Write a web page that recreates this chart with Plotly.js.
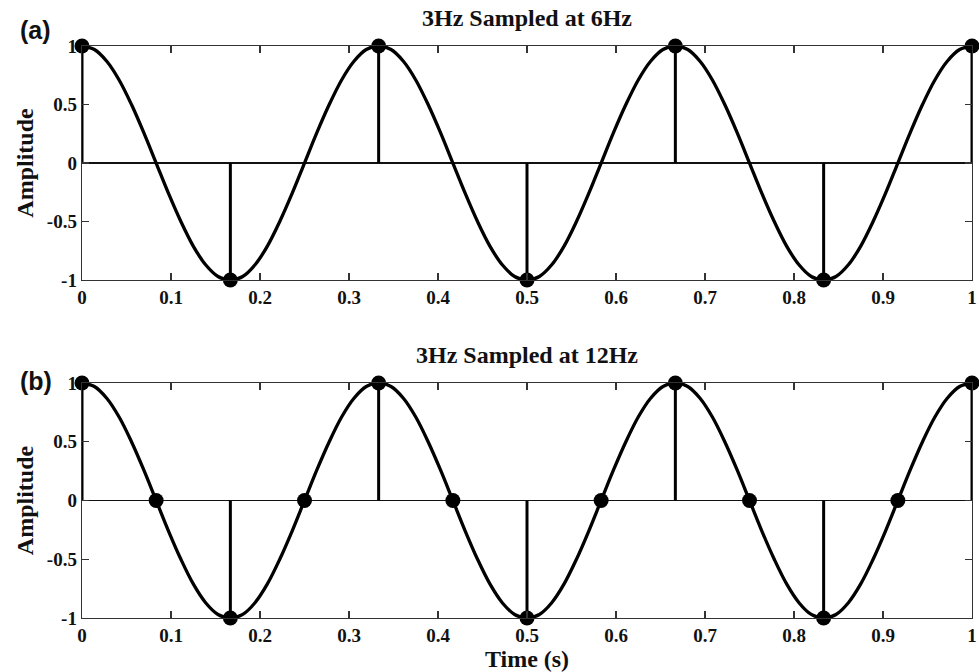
<!DOCTYPE html>
<html><head><meta charset="utf-8">
<script src="https://cdn.plot.ly/plotly-3.0.1.min.js"></script>
<style>body{margin:0;background:#fff}#c{width:979px;height:672px}</style>
</head><body><div id="c"></div>
<script>
// Continuous 3 Hz signal, read at 1/72 s steps
const curveT = [0,0.0139,0.0278,0.0417,0.0556,0.0694,0.0833,0.0972,0.1111,0.125,0.1389,0.1528,
  0.1667,0.1806,0.1944,0.2083,0.2222,0.2361,0.25,0.2639,0.2778,0.2917,0.3056,0.3194,
  0.3333,0.3472,0.3611,0.375,0.3889,0.4028,0.4167,0.4306,0.4444,0.4583,0.4722,0.4861,
  0.5,0.5139,0.5278,0.5417,0.5556,0.5694,0.5833,0.5972,0.6111,0.625,0.6389,0.6528,
  0.6667,0.6806,0.6944,0.7083,0.7222,0.7361,0.75,0.7639,0.7778,0.7917,0.8056,0.8194,
  0.8333,0.8472,0.8611,0.875,0.8889,0.9028,0.9167,0.9306,0.9444,0.9583,0.9722,0.9861,1];
const curveA = [1,0.97,0.87,0.71,0.5,0.26,0,-0.26,-0.5,-0.71,-0.87,-0.97,
  -1,-0.97,-0.87,-0.71,-0.5,-0.26,0,0.26,0.5,0.71,0.87,0.97,
  1,0.97,0.87,0.71,0.5,0.26,0,-0.26,-0.5,-0.71,-0.87,-0.97,
  -1,-0.97,-0.87,-0.71,-0.5,-0.26,0,0.26,0.5,0.71,0.87,0.97,
  1,0.97,0.87,0.71,0.5,0.26,0,-0.26,-0.5,-0.71,-0.87,-0.97,
  -1,-0.97,-0.87,-0.71,-0.5,-0.26,0,0.26,0.5,0.71,0.87,0.97,1];
// Samples at 6 Hz
const s6T = [0,0.1667,0.3333,0.5,0.6667,0.8333,1];
const s6A = [1,-1,1,-1,1,-1,1];
// Samples at 12 Hz
const s12T = [0,0.0833,0.1667,0.25,0.3333,0.4167,0.5,0.5833,0.6667,0.75,0.8333,0.9167,1];
const s12A = [1,0,-1,0,1,0,-1,0,1,0,-1,0,1];
const titles = ["3Hz Sampled at 6Hz","3Hz Sampled at 12Hz"];
const panelLabels = ["(a)","(b)"];
const xTicks = [0,0.1,0.2,0.3,0.4,0.5,0.6,0.7,0.8,0.9,1];
const xTickText = ["0","0.1","0.2","0.3","0.4","0.5","0.6","0.7","0.8","0.9","1"];
const yTicks = [-1,-0.5,0,0.5,1];
const yTickText = ["-1","-0.5","0","0.5","1"];

function stems(t, a){
  const x=[], y=[];
  t.forEach((v,i)=>{ x.push(v,v,null); y.push(0,a[i],null); });
  return {x,y};
}
const traces = [];
[[s6T,s6A,'x','y'],[s12T,s12A,'x2','y2']].forEach(([t,a,xa,ya])=>{
  traces.push({x:curveT,y:curveA,xaxis:xa,yaxis:ya,mode:'lines',line:{color:'#000',width:3.3,shape:'spline',smoothing:1},hoverinfo:'skip',cliponaxis:false});
  const s = stems(t,a);
  traces.push({x:s.x,y:s.y,xaxis:xa,yaxis:ya,mode:'lines',line:{color:'#000',width:3},hoverinfo:'skip',cliponaxis:false});
  traces.push({x:t,y:a,xaxis:xa,yaxis:ya,mode:'markers',marker:{color:'#000',size:15},cliponaxis:false});
});

const serif = '"Liberation Serif", "Times New Roman", serif';
const tickFont = {family:serif,size:19,color:'#111',weight:'bold'};
const titleFont = {family:serif,size:24,color:'#111',weight:'bold'};
const axTitleFont = {family:serif,size:24,color:'#111',weight:'bold'};
function xax(dom, anchor, withTitle){
  const o = {domain:[0,1],range:[0,1],anchor:anchor,tickvals:xTicks,ticktext:xTickText,ticks:'inside',ticklen:7,
    tickcolor:'#333',tickwidth:1.2,showline:true,linecolor:'#333',linewidth:1.3,mirror:'ticks',showgrid:false,zeroline:false,
    tickfont:tickFont};
  if(withTitle){ o.title={text:'Time (s)',font:axTitleFont,standoff:0}; }
  return o;
}
function yax(dom, anchor){
  return {domain:dom,range:[-1,1],anchor:anchor,tickvals:yTicks,ticktext:yTickText,ticks:'inside',ticklen:7,
    tickcolor:'#333',tickwidth:1.2,showline:true,linecolor:'#333',linewidth:1.3,mirror:'ticks',showgrid:false,
    zeroline:true,zerolinecolor:'#111',zerolinewidth:1.2,tickfont:tickFont,
    title:{text:'Amplitude',font:axTitleFont,standoff:6}};
}
const d1=[0.5833,0.9315], d2=[0.0804,0.4301];
const panelFont = {family:'"Liberation Sans", Arial, sans-serif',size:25,color:'#111',weight:'bold'};
const layout = {
  width:979,height:672,margin:{l:82,r:7,t:0,b:0},paper_bgcolor:'#fff',plot_bgcolor:'#fff',showlegend:false,
  xaxis:xax(d1,'y',false), yaxis:yax(d1,'x'),
  xaxis2:xax(d2,'y2',true), yaxis2:yax(d2,'x2'),
  annotations:[
    {text:titles[0],xref:'paper',yref:'paper',x:0.5,y:d1[1],yshift:13,xanchor:'center',yanchor:'bottom',showarrow:false,font:titleFont},
    {text:titles[1],xref:'paper',yref:'paper',x:0.5,y:d2[1],yshift:13,xanchor:'center',yanchor:'bottom',showarrow:false,font:titleFont},
    {text:panelLabels[0],xref:'paper',yref:'paper',x:-0.052,y:d1[1],yshift:0,xanchor:'center',yanchor:'bottom',showarrow:false,font:panelFont},
    {text:panelLabels[1],xref:'paper',yref:'paper',x:-0.052,y:d2[1],yshift:-14,xanchor:'center',yanchor:'bottom',showarrow:false,font:panelFont}
  ]
};
Plotly.newPlot('c',traces,layout,{displayModeBar:false,staticPlot:true});
</script></body></html>
